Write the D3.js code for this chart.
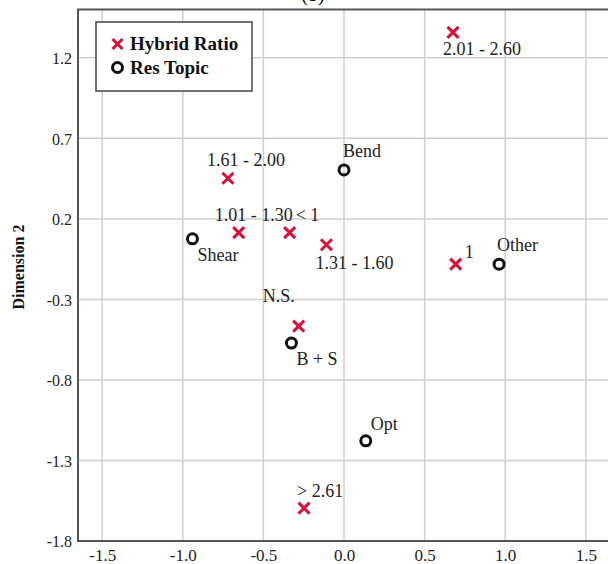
<!DOCTYPE html>
<html>
<head>
<meta charset="utf-8">
<script src="https://cdn.jsdelivr.net/npm/d3@7"></script>
<style>
  html, body { margin: 0; padding: 0; background: #fff; }
  svg { display: block; }
  text { font-family: "Liberation Serif", "Times New Roman", serif; }
</style>
</head>
<body>
<svg id="chart" width="608" height="564"></svg>
<script>
// Correspondence analysis: category coordinates on two dimensions
const hybridLabels = ["2.01 - 2.60", "1.61 - 2.00", "1.01 - 1.30", "< 1", "1.31 - 1.60", "1", "N.S.", "> 2.61"];
const hybridDim1   = [0.676, -0.720, -0.653, -0.337, -0.109, 0.693, -0.281, -0.248];
const hybridDim2   = [1.358, 0.452, 0.115, 0.115, 0.039, -0.081, -0.466, -1.596];

const topicLabels = ["Bend", "Shear", "Other", "B + S", "Opt"];
const topicDim1   = [0.000, -0.940, 0.962, -0.326, 0.135];
const topicDim2   = [0.504, 0.076, -0.081, -0.571, -1.178];

const xTicks = [-1.5, -1.0, -0.5, 0.0, 0.5, 1.0, 1.5];
const xTickLabels = ["-1.5", "-1.0", "-0.5", "0.0", "0.5", "1.0", "1.5"];
const yTicks = [1.2, 0.7, 0.2, -0.3, -0.8, -1.3, -1.8];
const yTickLabels = ["1.2", "0.7", "0.2", "-0.3", "-0.8", "-1.3", "-1.8"];

const seriesNames = ["Hybrid Ratio", "Res Topic"];

// label placement relative to each marker (pixels)
const hybridLabelOffset = [[-10, 23], [-21, -12], [-24, -12], [6, -12], [-11, 24], [9, -6], [-36, -24], [-7, -11]];
const topicLabelOffset  = [[-1, -13], [5, 22], [-2, -13], [5, 22], [5, -11]];

const RED = "#d8103a";
const AXIS = "#555";
const GRID = "#cfcfcf";

const svg = d3.select("#chart");
const plot = { left: 78, right: 610, top: 9.5, bottom: 541 };

const x = d3.scaleLinear().domain([-1.65, 1.65]).range([plot.left, plot.right]);
const y = d3.scaleLinear().domain([-1.8, 1.5]).range([plot.bottom, plot.top]);

// panel title (sits at the very top edge)
svg.append("text")
  .attr("x", 313).attr("y", 0.5)
  .attr("text-anchor", "middle")
  .attr("font-size", 20)
  .text("(b)");

// grid lines
const grid = svg.append("g");
grid.selectAll("line.v").data(xTicks).join("line")
  .attr("class", "v")
  .attr("x1", d => x(d)).attr("x2", d => x(d))
  .attr("y1", plot.top).attr("y2", plot.bottom)
  .attr("stroke", GRID).attr("stroke-width", 1.5);
grid.selectAll("line.h").data(yTicks).join("line")
  .attr("class", "h")
  .attr("x1", plot.left).attr("x2", plot.right)
  .attr("y1", d => y(d)).attr("y2", d => y(d))
  .attr("stroke", GRID).attr("stroke-width", 1.5);

// frame
svg.append("rect")
  .attr("x", plot.left).attr("y", plot.top)
  .attr("width", plot.right - plot.left).attr("height", plot.bottom - plot.top)
  .attr("fill", "none").attr("stroke", AXIS).attr("stroke-width", 2);

// axes (labels only; grid and frame drawn above)
const xAxis = d3.axisBottom(x).tickValues(xTicks).tickSize(0).tickPadding(0)
  .tickFormat((d, i) => xTickLabels[i]);
const gx = svg.append("g").attr("transform", `translate(0,${plot.bottom})`).call(xAxis);
gx.select(".domain").remove();
gx.selectAll("text")
  .attr("y", 20).attr("dy", 0)
  .attr("font-family", "Liberation Serif, serif")
  .attr("font-size", 17).attr("fill", "#222");

const yAxis = d3.axisLeft(y).tickValues(yTicks).tickSize(0).tickPadding(6)
  .tickFormat((d, i) => yTickLabels[i]);
const gy = svg.append("g").attr("transform", `translate(${plot.left},0)`).call(yAxis);
gy.select(".domain").remove();
gy.selectAll("text")
  .attr("dy", "0.36em")
  .attr("font-family", "Liberation Serif, serif")
  .attr("font-size", 16).attr("fill", "#222");

// axis title
svg.append("text")
  .attr("transform", `translate(24,267) rotate(-90)`)
  .attr("text-anchor", "middle")
  .attr("font-size", 16).attr("font-weight", "bold")
  .attr("fill", "#111")
  .text("Dimension 2");

// marker helpers
const crossPath = s => `M${-s},${-s}L${s},${s}M${-s},${s}L${s},${-s}`;

const hybrid = hybridLabels.map((l, i) => ({ label: l, d1: hybridDim1[i], d2: hybridDim2[i], off: hybridLabelOffset[i] }));
const topics = topicLabels.map((l, i) => ({ label: l, d1: topicDim1[i], d2: topicDim2[i], off: topicLabelOffset[i] }));

const gh = svg.append("g");
gh.selectAll("path").data(hybrid).join("path")
  .attr("transform", d => `translate(${x(d.d1)},${y(d.d2)})`)
  .attr("d", crossPath(5.5))
  .attr("stroke", RED).attr("stroke-width", 3).attr("fill", "none");
gh.selectAll("text").data(hybrid).join("text")
  .attr("x", d => x(d.d1) + d.off[0])
  .attr("y", d => y(d.d2) + d.off[1])
  .attr("font-size", 18).attr("fill", "#222")
  .text(d => d.label);

const gt = svg.append("g");
gt.selectAll("circle").data(topics).join("circle")
  .attr("cx", d => x(d.d1)).attr("cy", d => y(d.d2))
  .attr("r", 5)
  .attr("stroke", "#111").attr("stroke-width", 3).attr("fill", "none");
gt.selectAll("text").data(topics).join("text")
  .attr("x", d => x(d.d1) + d.off[0])
  .attr("y", d => y(d.d2) + d.off[1])
  .attr("font-size", 18).attr("fill", "#222")
  .text(d => d.label);

// legend
const lg = svg.append("g");
lg.append("rect")
  .attr("x", 96).attr("y", 22).attr("width", 156).attr("height", 69)
  .attr("fill", "#fff").attr("stroke", "#444").attr("stroke-width", 1.5);
lg.append("path")
  .attr("transform", "translate(117.5,44)")
  .attr("d", crossPath(5))
  .attr("stroke", RED).attr("stroke-width", 3).attr("fill", "none");
lg.append("circle")
  .attr("cx", 117.5).attr("cy", 67.5).attr("r", 5)
  .attr("stroke", "#111").attr("stroke-width", 3).attr("fill", "none");
lg.selectAll("text").data(seriesNames).join("text")
  .attr("x", 130).attr("y", (d, i) => 50 + i * 24)
  .attr("font-size", 19).attr("font-weight", 600).attr("fill", "#111")
  .text(d => d);
</script>
</body>
</html>
